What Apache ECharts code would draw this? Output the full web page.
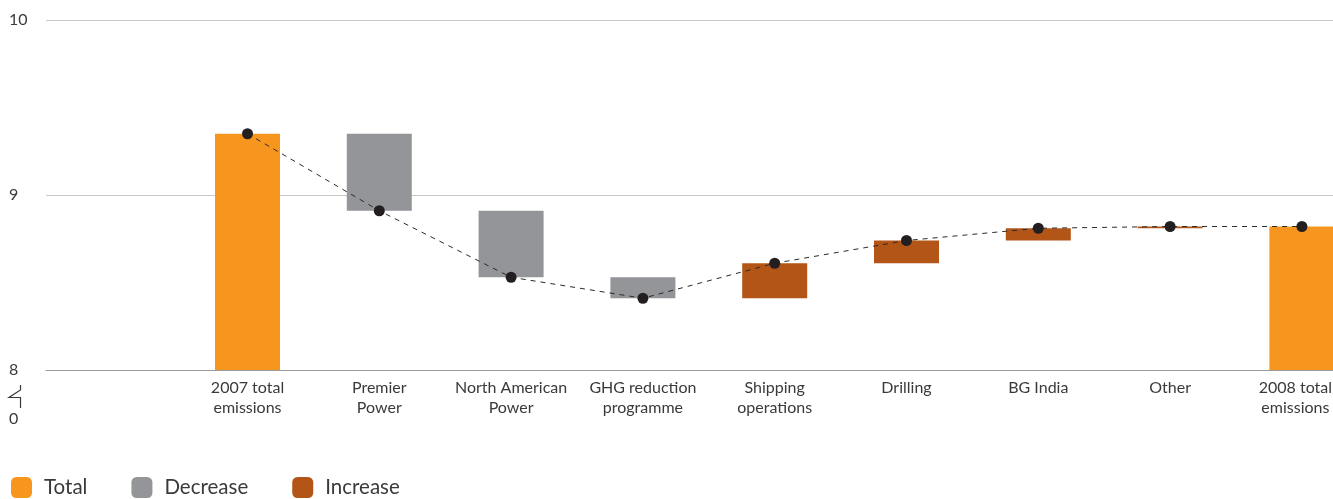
<!DOCTYPE html>
<html>
<head>
<meta charset="utf-8">
<title>Emissions bridge 2007–2008</title>
<script src="https://cdn.jsdelivr.net/npm/echarts@6/dist/echarts.min.js"></script>
<style>
  html, body { margin: 0; padding: 0; background: #fff; }
  #chart { width: 1333px; height: 499px; }
</style>
</head>
<body>
<div id="chart"></div>
<script>
// Category labels along the bottom
const categories = [
  '2007 total\nemissions', 'Premier\nPower', 'North American\nPower',
  'GHG reduction\nprogramme', 'Shipping\noperations', 'Drilling',
  'BG India', 'Other', '2008 total\nemissions'
];
// Opening and closing totals
const openingTotal = 9.35;
const closingTotal = 8.82;
// Step changes between the two totals (negative = decrease)
const changes = [-0.44, -0.38, -0.12, 0.20, 0.13, 0.07, 0.01];
// Value-axis tick labels
const yTicks = [8, 9, 10];

const FONT = 'Lato, "Open Sans", sans-serif';
const TEXT = '#3a3a3a';
const C_TOTAL = '#F7961E';
const C_DEC = '#939598';
const C_INC = '#B35516';

// Running level after each category
const levels = [openingTotal];
changes.forEach(c => levels.push(+(levels[levels.length - 1] + c).toFixed(4)));
levels.push(closingTotal);

const n = categories.length;
const baseData = [], totalData = [], decData = [], incData = [];
for (let i = 0; i < n; i++) {
  if (i === 0 || i === n - 1) {
    baseData.push(0);
    totalData.push(i === 0 ? openingTotal : closingTotal);
    decData.push('-'); incData.push('-');
  } else {
    const c = changes[i - 1];
    const start = levels[i - 1], end = levels[i];
    baseData.push(Math.min(start, end));
    totalData.push('-');
    decData.push(c < 0 ? +Math.abs(c).toFixed(4) : '-');
    incData.push(c > 0 ? +c.toFixed(4) : '-');
  }
}

const chart = echarts.init(document.getElementById('chart'), null, { renderer: 'canvas' });

chart.setOption({
  animation: false,
  backgroundColor: '#ffffff',
  textStyle: { fontFamily: FONT },
  grid: [
    // frame for the gridlines and value labels
    { left: 46, right: 0, top: 20, bottom: 129 },
    // frame holding the bars (its last band runs past the right edge)
    { left: 181.6, width: 1186.2, top: 20, bottom: 129, outerBoundsMode: 'none', containLabel: false }
  ],
  xAxis: [
    {
      gridIndex: 0, type: 'value', min: 0, max: 1,
      axisLine: { show: true, onZero: false, lineStyle: { color: '#9a9a9a', width: 1.2 } },
      axisTick: { show: false }, axisLabel: { show: false }, splitLine: { show: false }
    },
    {
      gridIndex: 1, type: 'category', data: categories,
      axisLine: { show: false }, axisTick: { show: false },
      axisLabel: {
        interval: 0, margin: 8, color: TEXT, fontSize: 16, lineHeight: 20,
        fontFamily: FONT, align: 'center',
        // keep the right-most label inside the page edge
        formatter: (v, i) => i === n - 1
          ? v.split('\n').map(s => '{edge|' + s + '}').join('\n')
          : v,
        rich: {
          edge: { fontSize: 16, lineHeight: 20, color: TEXT, fontFamily: FONT, padding: [0, 13, 0, 0] }
        }
      }
    }
  ],
  yAxis: [
    {
      gridIndex: 0, type: 'value', min: 8, max: 10, interval: 1,
      axisLine: { show: false }, axisTick: { show: false },
      axisLabel: {
        margin: 37, align: 'left', color: TEXT, fontSize: 16, fontFamily: FONT,
        customValues: yTicks
      },
      splitLine: { show: true, lineStyle: { color: '#c8c8c8', width: 1.2 } }
    },
    {
      gridIndex: 1, type: 'value', min: 8, max: 10, interval: 1, show: false,
      splitLine: { show: false }
    }
  ],
  legend: {
    data: ['Total', 'Decrease', 'Increase'],
    left: 11, top: 477, padding: 0,
    icon: 'roundRect', itemWidth: 21, itemHeight: 21, itemGap: 44,
    textStyle: { fontSize: 20.5, color: TEXT, fontFamily: FONT, padding: [0, 0, 0, 7] },
    selectedMode: false
  },
  series: [
    {
      name: 'base', type: 'bar', xAxisIndex: 1, yAxisIndex: 1, stack: 'wf',
      barWidth: 65, data: baseData, silent: true,
      itemStyle: { color: 'rgba(0,0,0,0)' }
    },
    {
      name: 'Total', type: 'bar', xAxisIndex: 1, yAxisIndex: 1, stack: 'wf',
      barWidth: 65, data: totalData, itemStyle: { color: C_TOTAL }
    },
    {
      name: 'Decrease', type: 'bar', xAxisIndex: 1, yAxisIndex: 1, stack: 'wf',
      barWidth: 65, data: decData, itemStyle: { color: C_DEC }
    },
    {
      name: 'Increase', type: 'bar', xAxisIndex: 1, yAxisIndex: 1, stack: 'wf',
      barWidth: 65, data: incData, itemStyle: { color: C_INC }
    },
    {
      name: 'level', type: 'line', xAxisIndex: 1, yAxisIndex: 1,
      data: levels, symbol: 'circle', symbolSize: 11, z: 5,
      itemStyle: { color: '#231f20' },
      lineStyle: { color: '#2a2a2a', width: 1, type: [5, 5] }
    }
  ],
  graphic: [
    // axis break mark below the value axis, followed by the zero label
    {
      type: 'polyline', silent: true,
      shape: { points: [[20.5, 385], [20.5, 390], [9, 397.5], [20.5, 397.5], [20.5, 408]] },
      style: { stroke: '#3a3a3a', lineWidth: 1.2, fill: null }
    },
    {
      type: 'text', left: 9, top: 411, silent: true,
      style: { text: '0', fontSize: 16, fontFamily: FONT, fill: TEXT }
    }
  ]
});
</script>
</body>
</html>
